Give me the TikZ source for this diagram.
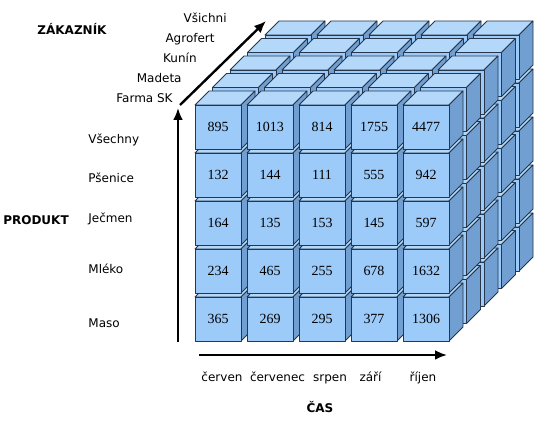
\documentclass[tikz,border=0pt]{standalone}
\usepackage{fontspec}
\setmainfont{DejaVu Sans}
\newfontfamily\numfont{Liberation Serif}
\usetikzlibrary{arrows.meta}
\definecolor{cubefront}{HTML}{9CCBFA}
\definecolor{cubetop}{HTML}{B3D8FA}
\definecolor{cubeside}{HTML}{729FD2}
\definecolor{cubeline}{HTML}{27364A}

\begin{document}
\begin{tikzpicture}[
  x=0.5pt, y=-0.5pt,
  >={Latex[length=6pt,width=5pt]},
  face/.style={draw=cubeline, line width=0.4pt, line join=round},
  lbl/.style={font=\fontsize{6}{7}\selectfont, text=black, inner sep=0pt},
  ttl/.style={lbl, font=\fontsize{6}{7}\selectfont\bfseries},
  val/.style={font=\fontsize{7}{8}\selectfont\numfont, text=black, inner sep=0pt},
  axisline/.style={->, line width=1.2pt},
]
\useasboundingbox (0,0) rectangle (553,426);

% Cube: layers from the back, rows from the bottom
\foreach \k in {4,...,0}{
  \foreach \r in {4,...,0}{
    \foreach \c in {0,...,4}{
      \pgfmathsetmacro{\xa}{195+52*\c+17.5*\k}
      \pgfmathsetmacro{\ya}{105+48*\r-17.5*\k}
      \filldraw[face, fill=cubetop] (\xa,\ya) -- ++(14,-14) -- ++(46,0) -- ++(-14,14) -- cycle;
      \filldraw[face, fill=cubeside] (\xa+46,\ya) -- ++(14,-14) -- ++(0,44) -- ++(-14,14) -- cycle;
      \filldraw[face, fill=cubefront] (\xa,\ya) rectangle ++(46,44);
    }
  }
}

% Values on the front face
\foreach \r/\vals in {0/{895,1013,814,1755,4477},1/{132,144,111,555,942},2/{164,135,153,145,597},3/{234,465,255,678,1632},4/{365,269,295,377,1306}}{
  \foreach \v [count=\c from 0] in \vals{
    \node[val] (v-\r-\c) at (218+52*\c,127+48*\r) {\v};
  }
}

% Axes
\coordinate (pOrigin) at (178,342);
\coordinate (pEnd) at (178,108);
\coordinate (tOrigin) at (199,355);
\coordinate (tEnd) at (447,355);
\coordinate (cOrigin) at (180,105);
\coordinate (cEnd) at (266,21);
\draw[axisline] (pOrigin) -- (pEnd);
\draw[axisline] (tOrigin) -- (tEnd);
\draw[axisline] (cOrigin) -- (cEnd);

% Customers
\node[ttl] (custTitle) at (72,29) {ZÁKAZNÍK};
\node[lbl, anchor=mid east] (cust-1) at (227,17) {Všichni};
\node[lbl, anchor=mid east] (cust-2) at (215,37) {Agrofert};
\node[lbl, anchor=mid east] (cust-3) at (197,57) {Kunín};
\node[lbl, anchor=mid east] (cust-4) at (182,77) {Madeta};
\node[lbl, anchor=mid east] (cust-5) at (173,97) {Farma SK};

% Products
\node[ttl, anchor=mid] (prodTitle) at (36,219) {PRODUKT};
\foreach \name/\y [count=\i] in {Všechny/138,Pšenice/177,Ječmen/217,Mléko/268,Maso/322}{
  \node[lbl, anchor=mid west] (prod-\i) at (88,\y) {\name};
}

% Time
\foreach \name/\x [count=\i] in {červen/222,červenec/277.5,srpen/330,září/370.5,říjen/423}{
  \node[lbl, anchor=mid] (month-\i) at (\x,376) {\name};
}
\node[ttl, anchor=mid] (timeTitle) at (320,407) {ČAS};

\end{tikzpicture}
\end{document}
